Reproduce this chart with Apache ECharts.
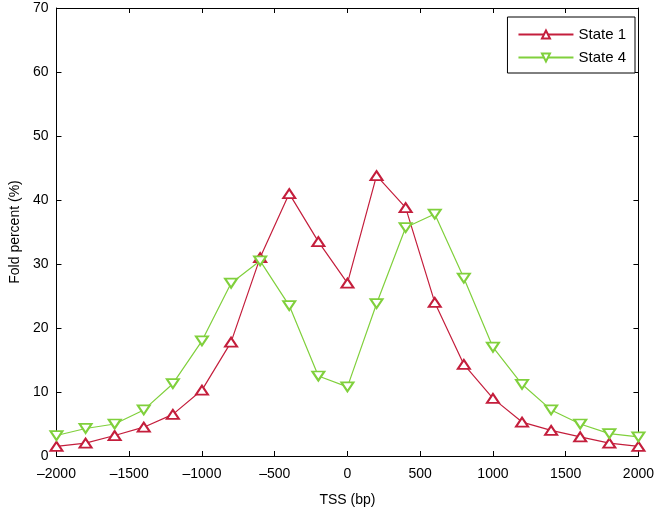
<!DOCTYPE html>
<html><head><meta charset="utf-8">
<script src="https://cdn.jsdelivr.net/npm/echarts@6/dist/echarts.min.js"></script>
<style>html,body{margin:0;padding:0;background:#fff}#c{width:657px;height:520px}</style>
</head><body><div id="c"></div>
<script>
const tss = [-2000,-1800,-1600,-1400,-1200,-1000,-800,-600,-400,-200,0,200,400,600,800,1000,1200,1400,1600,1800,2000];
const state1 = [1.5,2,3.2,4.5,6.5,10.3,17.8,31,41,33.5,27,43.8,38.8,24,14.3,9,5.3,4,3,2,1.5];
const state4 = [3.2,4.3,5,7.2,11.3,18,27,30.5,23.5,12.5,10.8,23.8,35.7,37.8,27.8,17,11.2,7.2,5,3.5,3];
const xTicks = [-2000,-1500,-1000,-500,0,500,1000,1500,2000];
const yTicks = [0,10,20,30,40,50,60,70];

const FONT = 'Liberation Sans, Arial, sans-serif';
const RED = '#c41e3c', GREEN = '#80d03c';
const chart = echarts.init(document.getElementById('c'));
const axLine = {show:true, onZero:false, lineStyle:{color:'#000', width:1}};
const tick = {show:true, inside:true, length:5, lineStyle:{color:'#000'}};
const fmtX = v => String(v).replace('-', '\u2013');
chart.setOption({
  animation:false,
  backgroundColor:'#fff',
  grid:{left:46, right:16, top:8, bottom:64, containLabel:false},
  legend:{
    right:22, top:17, orient:'vertical', backgroundColor:'#fff',
    borderColor:'#000', borderWidth:1, padding:[10,9,8,10], itemGap:8,
    itemWidth:55, itemHeight:10,
    textStyle:{fontFamily:FONT, fontSize:15, color:'#000'},
    data:['State 1','State 4']
  },
  xAxis:[{
    type:'value', min:-2000, max:2000, interval:500, position:'bottom',
    axisLine:axLine, axisTick:tick, splitLine:{show:false},
    axisLabel:{fontFamily:FONT, fontSize:14, color:'#000', margin:11, formatter:fmtX},
    name:'TSS (bp)', nameLocation:'middle', nameGap:37,
    nameTextStyle:{fontFamily:FONT, fontSize:14, color:'#000'}
  },{
    type:'value', min:-2000, max:2000, interval:500, position:'top',
    axisLine:axLine, axisTick:tick, axisLabel:{show:false}, splitLine:{show:false}
  }],
  yAxis:[{
    type:'value', min:0, max:70, interval:10, position:'left',
    axisLine:axLine, axisTick:tick, splitLine:{show:false},
    axisLabel:{fontFamily:FONT, fontSize:14, color:'#000', margin:8},
    name:'Fold percent (%)', nameLocation:'middle', nameGap:30,
    nameTextStyle:{fontFamily:FONT, fontSize:14, color:'#000'}
  },{
    type:'value', min:0, max:70, interval:10, position:'right',
    axisLine:axLine, axisTick:tick, axisLabel:{show:false}, splitLine:{show:false}
  }],
  series:[{
    name:'State 1', type:'line', data:tss.map((x,i)=>[x,state1[i]]),
    symbol:'emptyTriangle', symbolSize:[12,9], showAllSymbol:true,
    lineStyle:{color:RED, width:1.2}, itemStyle:{color:RED, borderWidth:1.4}
  },{
    name:'State 4', type:'line', data:tss.map((x,i)=>[x,state4[i]]),
    symbol:'emptyTriangle', symbolRotate:180, symbolSize:[12,9], showAllSymbol:true,
    lineStyle:{color:GREEN, width:1.2}, itemStyle:{color:GREEN, borderWidth:1.4}
  }]
});
</script></body></html>
